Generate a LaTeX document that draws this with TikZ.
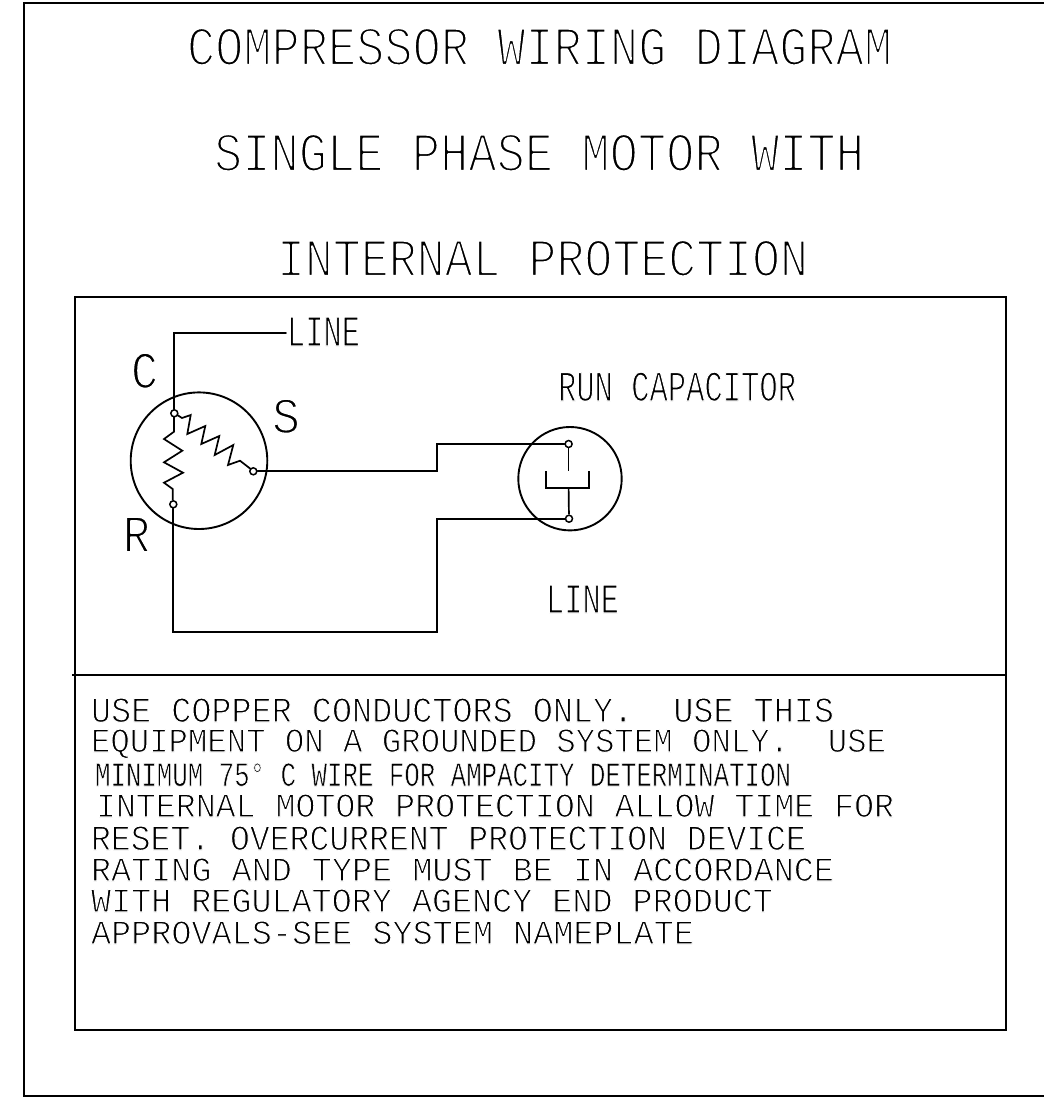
\documentclass[tikz,border=0pt]{standalone}
\usepackage{fontspec}
\usepackage{graphicx}
\setmainfont{Liberation Mono}
\newcommand{\thinw}{0.3}
% white outline round the glyphs: thins the strokes to the plotter-pen look
\newcommand{\thintext}[1]{\special{pdf:code q 2 Tr 1 1 1 RG \thinw\space w 1 j}#1\special{pdf:code Q}}
\newcommand{\fitline}[6]{% name, x left, x right, y top, y base, text
  \pgfmathsetlengthmacro{\fitw}{#3-#2}%
  \pgfmathsetlengthmacro{\fith}{#5-#4}%
  \node[txt] (#1) at (#2,#5) {\resizebox{\fitw}{\fith}{\thintext{#6}}};}
\tikzset{
  x=1pt,y=-1pt,
  wire/.style={line width=1.9pt,line join=miter,line cap=round,black},
  frame/.style={line width=1.9pt,line cap=rect,black},
  zig/.style={line width=1.7pt,line join=miter,black},
  term/.style={circle,draw=black,line width=1.5pt,fill=white,minimum size=7pt,inner sep=0pt},
  housing/.style={circle,draw=black,line width=1.9pt,inner sep=0pt},
  txt/.style={anchor=base west,inner sep=0pt,outer sep=0pt,text=black}
}
\begin{document}
\begin{tikzpicture}
\useasboundingbox (0,0) rectangle (1044,1101);
% titles
\renewcommand{\thinw}{0.42}
\fitline{t1}{187}{892}{28}{65}{COMPRESSOR WIRING DIAGRAM}
\fitline{t2}{214}{864}{134}{171}{SINGLE PHASE MOTOR WITH}
\fitline{t3}{277}{808}{240}{276}{INTERNAL PROTECTION}
% labels
\renewcommand{\thinw}{0.3}
\fitline{lline}{287}{360}{317}{346}{LINE}
\fitline{lc}{131}{158}{353}{388}{C}
\fitline{ls}{272}{300}{399}{433}{S}
\fitline{lr}{123}{150}{517}{552}{R}
\fitline{lrc}{558}{796}{372}{401}{RUN CAPACITOR}
\fitline{lline2}{546}{619}{585}{613}{LINE}
% notes
\fitline{n1}{91}{834}{698}{722}{USE COPPER CONDUCTORS ONLY.\ \ USE THIS}
\fitline{n2}{91}{886}{729}{752}{EQUIPMENT ON A GROUNDED SYSTEM ONLY.\ \ USE}
\renewcommand{\thinw}{0.2}
\fitline{n3}{95}{791}{763}{786}{MINIMUM 75° C WIRE FOR AMPACITY DETERMINATION}
\renewcommand{\thinw}{0.3}
\fitline{n4}{96}{894}{794}{817}{INTERNAL MOTOR PROTECTION ALLOW TIME FOR}
\fitline{n5}{91}{806}{826}{850}{RESET. OVERCURRENT PROTECTION DEVICE}
\fitline{n6}{91}{834}{858}{881}{RATING AND TYPE MUST BE IN ACCORDANCE}
\fitline{n7}{91}{773}{889}{912}{WITH REGULATORY AGENCY END PRODUCT}
\fitline{n8}{91}{694}{921}{944}{APPROVALS-SEE SYSTEM NAMEPLATE}
% outer frame
\coordinate (ot) at (1044,3);
\coordinate (otl) at (24,3);
\coordinate (obl) at (24,1096);
\coordinate (obr) at (1044,1096);
\draw[frame] (ot) -- (otl) -- (obl) -- (obr);
% inner box
\coordinate (ibtl) at (75,297);
\coordinate (ibbr) at (1006,1030);
\draw[frame] (ibtl) rectangle (ibbr);
\coordinate (dl) at (73,675);
\coordinate (dr) at (1006,675);
\draw[frame] (dl) -- (dr);
% housings
\node[housing,minimum size=136.6pt] (comp) at (199,460.7) {};
\node[housing,minimum size=103.4pt] (cap) at (570,478.7) {};
% routing points
\coordinate (ltop) at (174.3,333);
\coordinate (lend) at (286,333);
\coordinate (sj1) at (437,471.3);
\coordinate (sj2) at (437,444);
\coordinate (rj1) at (437,518.7);
\coordinate (rj2) at (437,632);
\coordinate (rj3) at (173.3,632);
% windings
\coordinate (vs) at (174,417);
\coordinate (ve) at (172.7,500);
\draw[zig] (vs) -- (174,431.7) -- (164,439) -- (182.3,450.7) -- (164,462.3) -- (183,472.7) -- (164,482.7) -- (172.7,489) -- (ve);
\coordinate (ds) at (177.3,415);
\coordinate (de) at (250.7,469);
\draw[zig] (ds) -- (182,418) -- (190.7,415) -- (187.3,434) -- (205.3,426) -- (201.3,444) -- (219.3,436) -- (214.7,455) -- (233.3,445) -- (228,465) -- (240,460.7) -- (de);
% capacitor
\coordinate (p1) at (546,471);
\coordinate (p2) at (546,488);
\coordinate (p3) at (589,488);
\coordinate (p4) at (589,471);
\coordinate (pm) at (568.6,488);
\coordinate (ts) at (568.6,471);
\draw[zig] (p1) -- (p2) -- (p3) -- (p4);
% terminals
\node[term] (tc) at (174.3,413.3) {};
\node[term] (ts1) at (253.3,471.3) {};
\node[term] (tr) at (173.3,504.3) {};
\node[term] (ct) at (568.6,444) {};
\node[term] (cb) at (569,518.7) {};
% connectors
\draw[wire] (lend) -- (ltop) -- (tc);
\draw[wire] (ts1) -- (sj1) -- (sj2) -- (ct);
\draw[wire] (tr) -- (rj3) -- (rj2) -- (rj1) -- (cb);
\draw[zig] (ct) -- (ts);
\draw[zig] (pm) -- (cb);
\end{tikzpicture}
\end{document}
